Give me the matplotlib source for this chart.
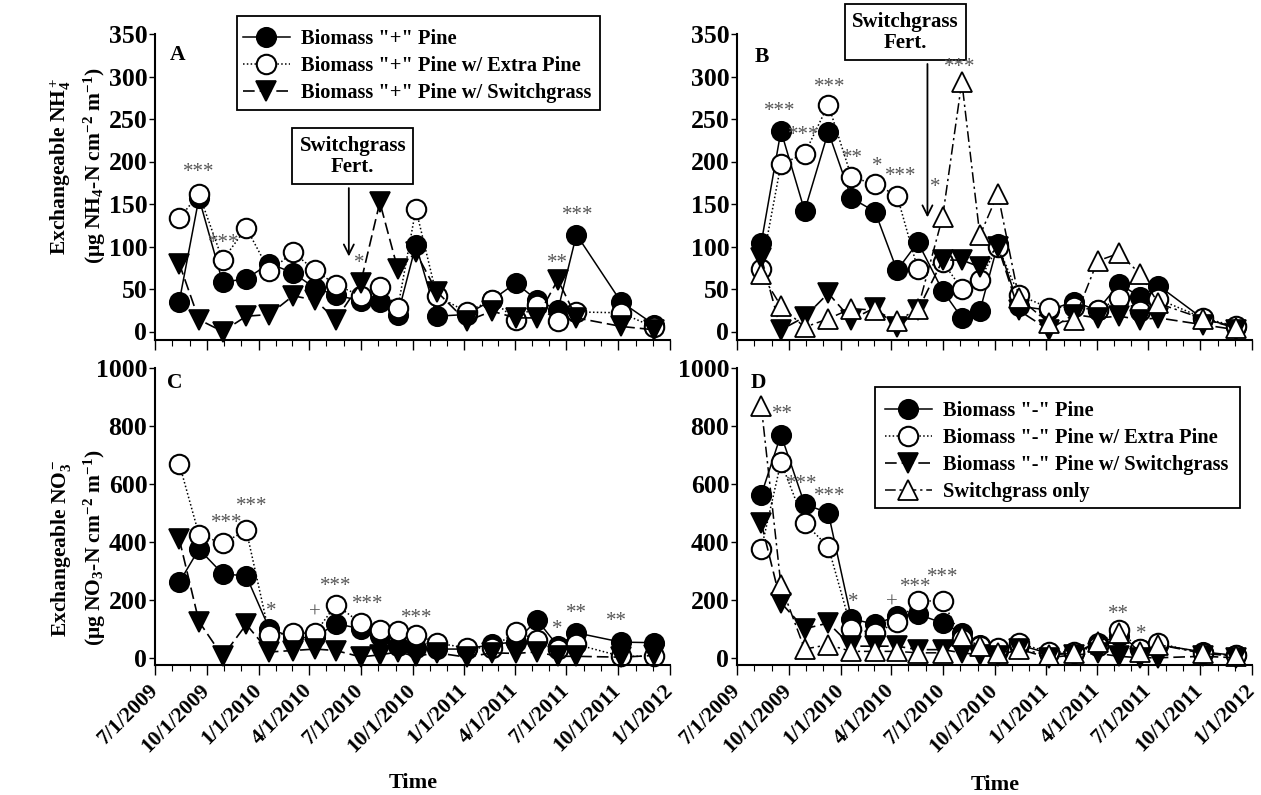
import matplotlib
matplotlib.use('Agg')
import matplotlib.pyplot as plt
import matplotlib.dates as mdates
from matplotlib.ticker import FuncFormatter
from matplotlib.patches import Rectangle
import pandas as pd

plt.rcParams['font.family'] = ['Liberation Serif', 'DejaVu Serif']
plt.rcParams['font.weight'] = 'bold'
plt.rcParams['mathtext.fontset'] = 'custom'
plt.rcParams['mathtext.rm'] = 'Liberation Serif:bold'
plt.rcParams['mathtext.it'] = 'Liberation Serif:bold:italic'
plt.rcParams['mathtext.bf'] = 'Liberation Serif:bold'

# ---------------- data ----------------
sample_dates = ['2009-08-13', '2009-09-17', '2009-10-29', '2009-12-10', '2010-01-20',
                '2010-03-03', '2010-04-11', '2010-05-18', '2010-07-01', '2010-08-04',
                '2010-09-05', '2010-10-07', '2010-11-13', '2011-01-05', '2011-02-19',
                '2011-04-02', '2011-05-10', '2011-06-16', '2011-07-19', '2011-10-06',
                '2011-12-04']

# Panel A: NH4, biomass "+"
A_pine  = [35, 157, 58, 62, 80, 69, 51, 43, 36, 35, 20, 102, 18, 20, 37, 57, 37, 25, 114, 35, 8]
A_extra = [133, 162, 84, 122, 71, 93, 72, 55, 42, 52, 28, 144, 42, 23, 37, 14, 31, 12, 23, 22, 5]
A_sw    = [80, 14, 0, 18, 20, 42, 37, 14, 57, 152, 73, 93, 47, 12, 24, 16, 16, 61, 16, 6, 2]

# Panel B: NH4, biomass "-"
B_pine   = [104, 236, 142, 235, 157, 141, 72, 105, 48, 16, 24, 103, 30, 25, 35, 25, 56, 41, 54, 15, 5]
B_extra  = [73, 197, 209, 267, 182, 173, 160, 73, 82, 50, 61, 100, 43, 28, 29, 25, 39, 24, 38, 16, 6]
B_sw     = [87, 2, 17, 45, 14, 28, 5, 25, 84, 84, 76, 100, 25, 2, 20, 16, 18, 14, 16, 8, 2]
B_swonly = [68, 30, 5, 15, 27, 25, 12, 27, 135, 294, 113, 162, 40, 10, 13, 83, 92, 68, 33, 15, 4]

# Panel C: NO3, biomass "+"
C_pine  = [260, 375, 290, 282, 100, 70, 70, 118, 100, 74, 40, 35, 30, 30, 46, 55, 131, 40, 86, 54, 52]
C_extra = [670, 425, 395, 440, 80, 85, 85, 183, 120, 97, 91, 80, 51, 34, 34, 88, 63, 29, 46, 5, 5]
C_sw    = [410, 125, 5, 115, 20, 25, 30, 25, 3, 10, 20, 5, 17, 2, 17, 15, 20, 5, 5, 2, 8]

# Panel D: NO3, biomass "-"
D_pine   = [562, 770, 530, 500, 135, 115, 145, 150, 120, 85, 45, 25, 45, 15, 15, 50, 75, 30, 45, 20, 8]
D_extra  = [375, 675, 465, 383, 100, 85, 122, 195, 197, 65, 40, 35, 50, 20, 20, 40, 95, 30, 50, 15, 8]
D_sw     = [465, 190, 100, 120, 40, 40, 40, 28, 28, 17, 10, 5, 30, 0, 10, 15, 5, 0, 0, 5, 0]
D_swonly = [870, 250, 30, 45, 22, 22, 22, 17, 17, 75, 39, 17, 30, 10, 15, 55, 85, 20, 45, 15, 5]

# significance marks: (date, value, label)
sig_A = [('2009-09-17', 187, '***'), ('2009-10-31', 104, '***'), ('2010-06-28', 80, '*'),
         ('2011-06-16', 80, '**'), ('2011-07-21', 137, '***')]
sig_B = [('2009-09-15', 259, '***'), ('2009-10-27', 231, '***'), ('2009-12-12', 287, '***'),
         ('2010-01-22', 204, '**'), ('2010-03-06', 194, '*'), ('2010-04-18', 182, '***'),
         ('2010-06-18', 170, '*'), ('2010-08-01', 310, '***')]
sig_C = [('2009-11-05', 463, '***'), ('2009-12-20', 523, '***'), ('2010-01-23', 160, '*'),
         ('2010-04-11', 154, '+'), ('2010-05-18', 245, '***'), ('2010-07-14', 183, '***'),
         ('2010-10-08', 137, '***'), ('2011-06-14', 97, '*'), ('2011-07-19', 154, '**'),
         ('2011-09-28', 126, '**')]
sig_D = [('2009-09-19', 838, '**'), ('2009-10-24', 597, '***'), ('2009-12-12', 558, '***'),
         ('2010-01-23', 189, '*'), ('2010-04-01', 189, '+'), ('2010-05-15', 241, '***'),
         ('2010-07-01', 276, '***'), ('2011-05-09', 148, '**'), ('2011-06-19', 79, '*')]

labels_plus = ['Biomass "+" Pine', 'Biomass "+" Pine w/ Extra Pine', 'Biomass "+" Pine w/ Switchgrass']
labels_minus = ['Biomass "-" Pine', 'Biomass "-" Pine w/ Extra Pine', 'Biomass "-" Pine w/ Switchgrass',
                'Switchgrass only']

# ---------------- figure ----------------
W, H = 1261, 795
fig = plt.figure(figsize=(W / 100, H / 100), dpi=100)


def rect(l, r, t, b):
    return [l / W, 1 - b / H, (r - l) / W, (b - t) / H]


axA = fig.add_axes(rect(155, 670, 34, 340))
axB = fig.add_axes(rect(737, 1252, 34, 340))
axC = fig.add_axes(rect(155, 670, 368, 665))
axD = fig.add_axes(rect(737, 1252, 368, 665))

x = pd.to_datetime(sample_dates)

styles = {
    'pine': dict(marker='o', ms=14, mfc='black', mec='black', mew=1.2, color='black', ls='-', lw=1.1),
    'extra': dict(marker='o', ms=14, mfc='white', mec='black', mew=1.5, color='black', ls=(0, (1, 1.5)), lw=1.1),
    'sw': dict(marker='v', ms=15, mfc='black', mec='black', mew=1.2, color='black', ls=(0, (7, 3)), lw=1.2),
    'swonly': dict(marker='^', ms=15, mfc='white', mec='black', mew=1.3, color='black', ls=(0, (7, 2.5, 1.5, 2.5)), lw=1.1),
}


def date_fmt(v, pos):
    d = mdates.num2date(v)
    return f"{d.month}/{d.day}/{d.year}"


def setup(ax, ymin, ymax, ystep, show_xlabels):
    ax.set_xlim(pd.Timestamp('2009-07-01'), pd.Timestamp('2012-01-01'))
    ax.set_ylim(ymin, ymax)
    ax.set_yticks(list(range(0, int(ymax) + 1, ystep)))
    for s in ['top', 'right']:
        ax.spines[s].set_visible(False)
    for s in ['left', 'bottom']:
        ax.spines[s].set_linewidth(1.5)
    ax.xaxis.set_major_locator(mdates.MonthLocator(bymonth=[1, 4, 7, 10]))
    ax.xaxis.set_minor_locator(mdates.MonthLocator())
    ax.xaxis.set_major_formatter(FuncFormatter(date_fmt))
    ax.tick_params(axis='x', which='major', length=7, width=1, direction='out', labelsize=15.5, pad=9,
                   labelbottom=show_xlabels)
    ax.tick_params(axis='x', which='minor', length=4, width=0.8, direction='out')
    ax.tick_params(axis='y', which='major', length=4, width=1, direction='out', labelsize=18.5, pad=1.5)
    for lbl in ax.get_xticklabels():
        lbl.set_rotation(45)
        lbl.set_ha('right')
        lbl.set_va('center')
        lbl.set_rotation_mode('anchor')
        lbl.set_fontweight('bold')
    for lbl in ax.get_yticklabels():
        lbl.set_fontweight('bold')


def plot_sig(ax, sig):
    for d, v, t in sig:
        ax.text(pd.Timestamp(d), v, t, ha='center', va='center', fontsize=15,
                color='#555555', fontweight='normal', clip_on=False, zorder=6)


def plot_panel(ax, series):
    handles = []
    for key, vals, lab in series:
        h, = ax.plot(x, vals, label=lab, clip_on=False, **styles[key])
        handles.append(h)
    return handles


hA = plot_panel(axA, [('pine', A_pine, labels_plus[0]), ('extra', A_extra, labels_plus[1]),
                      ('sw', A_sw, labels_plus[2])])
plot_panel(axB, [('pine', B_pine, labels_minus[0]), ('extra', B_extra, labels_minus[1]),
                 ('sw', B_sw, labels_minus[2]), ('swonly', B_swonly, labels_minus[3])])
plot_panel(axC, [('pine', C_pine, labels_plus[0]), ('extra', C_extra, labels_plus[1]),
                 ('sw', C_sw, labels_plus[2])])
hD = plot_panel(axD, [('pine', D_pine, labels_minus[0]), ('extra', D_extra, labels_minus[1]),
                      ('sw', D_sw, labels_minus[2]), ('swonly', D_swonly, labels_minus[3])])

setup(axA, -10, 350, 50, False)
setup(axB, -10, 350, 50, False)
setup(axC, -25, 1000, 200, True)
setup(axD, -25, 1000, 200, True)

plot_sig(axA, sig_A)
plot_sig(axB, sig_B)
plot_sig(axC, sig_C)
plot_sig(axD, sig_D)

# legends: frame drawn as a rectangle, entries placed inside
for (l, t, r, b) in [(237, 16, 600, 110), (875, 387, 1240, 508)]:
    fig.patches.append(Rectangle((l / W, 1 - b / H), (r - l) / W, (b - t) / H,
                                 transform=fig.transFigure, fill=True, fc='white',
                                 ec='black', lw=1.3, zorder=9))
leg_kw = dict(loc='upper left', fontsize=14.7, frameon=False,
              handlelength=2.3, handletextpad=0.55, borderpad=0.0, labelspacing=0.35,
              borderaxespad=0, numpoints=1)
legA = fig.legend(handles=hA, bbox_to_anchor=(243 / W, 1 - 29 / H), **leg_kw)
legD = fig.legend(handles=hD, bbox_to_anchor=(885 / W, 1 - 401 / H), **leg_kw)
legA.set_zorder(10)
legD.set_zorder(10)

# fertilization annotations
box = dict(boxstyle='square,pad=0.35', fc='white', ec='black', lw=1.3)
axA.text(pd.Timestamp('2010-06-17'), 206, 'Switchgrass\nFert.', ha='center', va='center',
         fontsize=15, fontweight='bold', bbox=box, linespacing=1.1, zorder=4)
axA.annotate('', xy=(pd.Timestamp('2010-06-10'), 85), xytext=(pd.Timestamp('2010-06-10'), 172),
             arrowprops=dict(arrowstyle='->', lw=1.3, color='black', mutation_scale=18))
axB.text(pd.Timestamp('2010-04-26'), 352, 'Switchgrass\nFert.', ha='center', va='center',
         fontsize=15, fontweight='bold', bbox=box, linespacing=1.1, clip_on=False, zorder=4)
axB.annotate('', xy=(pd.Timestamp('2010-06-04'), 131), xytext=(pd.Timestamp('2010-06-04'), 318),
             arrowprops=dict(arrowstyle='->', lw=1.3, color='black', mutation_scale=18),
             annotation_clip=False)

# panel letters
for (px, py), t in [((178, 55), 'A'), ((762, 57), 'B'), ((175, 383), 'C'), ((758, 383), 'D')]:
    fig.text(px / W, 1 - py / H, t, ha='center', va='center', fontsize=15.5, fontweight='bold')

# y labels
fig.text(61 / W, 1 - 166 / H, r'Exchangeable NH$_4^+$', rotation=90, ha='center', va='center',
         fontsize=15.5, fontweight='bold')
fig.text(95 / W, 1 - 166 / H, r'($\mathregular{\mu}$g NH$_4$-N cm$^{-2}$ m$^{-1}$)', rotation=90,
         ha='center', va='center', fontsize=15.5, fontweight='bold')
fig.text(61 / W, 1 - 548 / H, r'Exchangeable NO$_3^-$', rotation=90, ha='center', va='center',
         fontsize=15.5, fontweight='bold')
fig.text(95 / W, 1 - 548 / H, r'($\mathregular{\mu}$g NO$_3$-N cm$^{-2}$ m$^{-1}$)', rotation=90,
         ha='center', va='center', fontsize=15.5, fontweight='bold')

# x labels
fig.text(413 / W, 1 - 783 / H, 'Time', ha='center', va='center', fontsize=16, fontweight='bold')
fig.text(995 / W, 1 - 785 / H, 'Time', ha='center', va='center', fontsize=16, fontweight='bold')

fig.savefig('out.png', dpi=100)
